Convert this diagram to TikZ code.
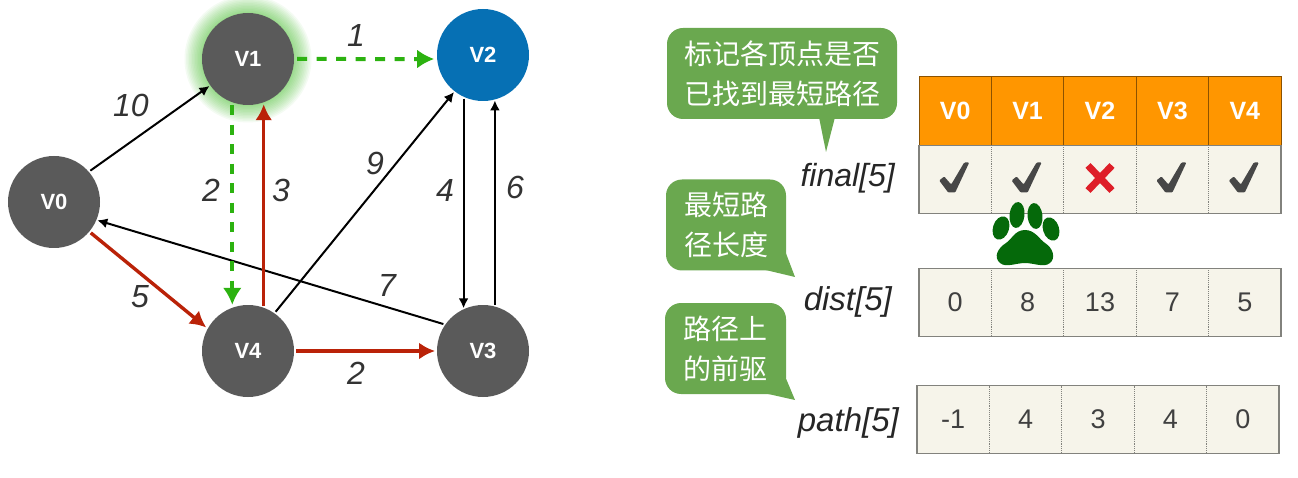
\documentclass[tikz,border=0pt]{standalone}
\usepackage{fontspec}
\setmainfont{Liberation Sans}
\newfontfamily\cjkfont{Noto Sans CJK SC}
\usetikzlibrary{arrows.meta, positioning, calc}
\definecolor{vexgray}{RGB}{90,90,90}
\definecolor{vexblue}{RGB}{6,112,180}
\definecolor{edgegreen}{RGB}{44,178,16}
\definecolor{edgered}{RGB}{186,34,8}
\definecolor{notegreen}{RGB}{106,168,79}
\definecolor{headorange}{RGB}{255,150,0}
\definecolor{cellcream}{RGB}{246,244,234}
\definecolor{cellline}{RGB}{130,130,125}
\definecolor{pawgreen}{RGB}{5,105,10}
\definecolor{crossred}{RGB}{222,30,40}
\tikzset{
  vertex/.style={
    circle, fill=vexgray, draw=none, minimum size=92pt, inner sep=0pt,
    outer sep=0pt, text=white, font=\fontsize{22}{22}\selectfont\bfseries
  },
  plainedge/.style={-{Latex[length=10pt,width=10pt]}, line width=2pt, draw=black, shorten <=2pt, shorten >=1pt},
  rededge/.style={-{Latex[length=16pt,width=17pt]}, line width=3.4pt, draw=edgered, shorten <=2pt, shorten >=2pt},
  greenedge/.style={-{Latex[length=17pt,width=19pt]}, line width=4pt, draw=edgegreen, dash pattern=on 10pt off 9.5pt, shorten <=3pt, shorten >=3pt},
  weight/.style={font=\fontsize{32}{32}\selectfont\itshape, text=black!80, inner sep=0pt},
  headcell/.style={
    rectangle, fill=headorange, draw=black!45!headorange, line width=0.8pt, minimum width=72.4pt,
    minimum height=69pt, inner sep=0pt, outer sep=0pt, text=white,
    font=\fontsize{25}{25}\selectfont\bfseries
  },
  valcell/.style={
    rectangle, fill=cellcream, minimum width=72.4pt, minimum height=68pt,
    inner sep=0pt, outer sep=0pt, text=black!75, font=\fontsize{27}{27}\selectfont
  },
  framebox/.style={draw=cellline, line width=1.6pt},
  divider/.style={draw=cellline, line width=0.9pt, densely dotted},
  arrayname/.style={font=\fontsize{33}{33}\selectfont\itshape, text=black!85, inner sep=0pt},
  note/.style={
    rectangle, rounded corners=16pt, fill=notegreen, text=white, align=center,
    inner sep=0pt, font=\fontsize{28}{40}\cjkfont
  },
  notetail/.style={fill=notegreen, draw=none},
  checkmark/.style={fill=black!72, draw=none, rounded corners=1pt},
  crossmark/.style={draw=crossred, line width=7pt},
  paw/.style={fill=pawgreen, draw=none}
}

\begin{document}
\begin{tikzpicture}[x=1pt, y=-1pt]
\useasboundingbox (0,0) rectangle (1298,478);

\foreach \r in {47,48.5,...,64}
  \fill[edgegreen, opacity=0.05] (248,59) circle (\r pt);

\node[vertex] (V0) at (54,202) {V0};
\node[vertex] (V1) at (248,59) {V1};
\node[vertex, fill=vexblue] (V2) at (483,55) {V2};
\node[vertex] (V3) at (483,351) {V3};
\node[vertex] (V4) at (248,351) {V4};

\draw[plainedge] (V0.41) -- (V1.215);
\draw[plainedge] (V4.55) -- (V2.232);
\draw[plainedge] (V2.245) -- (V3.115);
\draw[plainedge] (V3.75) -- (V2.285);
\draw[plainedge] (V3.145) -- (V0.-23);
\draw[rededge] (V4.70) -- (V1.290);
\draw[rededge] (V0.-40) -- (V4.151);
\draw[rededge] (V4) -- (V3);
\draw[greenedge] (V1.0) -- (V2.185);
\draw[greenedge] (V1.250) -- (V4.110);

\node[weight] (w01) at (131,105) {10};
\node[weight] (w12) at (356,35) {1};
\node[weight] (w14) at (211,190) {2};
\node[weight] (w41) at (281,190) {3};
\node[weight] (w42) at (375,163) {9};
\node[weight] (w23) at (445,190) {4};
\node[weight] (w32) at (515,187) {6};
\node[weight] (w30) at (387,285) {7};
\node[weight] (w04) at (140,297) {5};
\node[weight] (w43) at (356,373) {2};

% table of the three arrays
\foreach \i/\t in {0/V0, 1/V1, 2/V2, 3/V3, 4/V4}
  \node[headcell] (head\i) at (955.2+72.4*\i,110.5) {\t};
\foreach \i in {0,1,2,3,4}
  \node[valcell] (final\i) at (955.2+72.4*\i,179.5) {};
\foreach \i/\t in {0/0, 1/8, 2/13, 3/7, 4/5}
  \node[valcell] (dist\i) at (955.2+72.4*\i,302.5) {\t};
\foreach \i/\t in {0/-1, 1/4, 2/3, 3/4, 4/0}
  \node[valcell] (path\i) at (953.2+72.4*\i,419.5) {\t};

\foreach \i in {0,1,3,4}
  \fill[checkmark, shift={(final\i)}] (-16,1) -- (-11,-3) -- (-4,5) -- (9,-17) -- (14,-17)
    -- (0,13) -- (-7,13) -- cycle;
\draw[crossmark, shift={(final2)}] (-12,-14) -- (12,11) (12,-14) -- (-12,11);

\foreach \row in {final,dist,path}{
  \foreach \i in {1,2,3,4}
    \draw[divider] (\row\i.north west) -- (\row\i.south west);
  \draw[framebox] (\row0.north west) rectangle (\row4.south east);
}

\node[arrayname, anchor=east, font=\fontsize{32}{32}\selectfont\itshape] (finalname) at (895,178) {final[5]};
\node[arrayname, anchor=east] (distname) at (892,302) {dist[5]};
\node[arrayname, anchor=east] (pathname) at (899,423) {path[5]};

% notes with their tails
\coordinate (tip1) at (826,152);
\coordinate (tip2) at (795,277);
\coordinate (tip3) at (795,400);
\node[note, minimum width=230pt, minimum height=91pt] (note1) at (782,73.5) {标记各顶点是否\\已找到最短路径};
\node[note, minimum width=120pt, minimum height=91pt] (note2) at (726,225) {最短路\\径长度};
\node[note, minimum width=121pt, minimum height=91pt] (note3) at (725.5,348.5) {路径上\\的前驱};
\fill[notetail] ($(note1.south)+(37,-2)$) -- (tip1) -- ($(note1.south)+(53,-2)$) -- cycle;
\fill[notetail] ($(note2.south east)+(-2,-22)$) -- (tip2) -- ($(note2.south east)+(-26,-2)$) -- cycle;
\fill[notetail] ($(note3.south east)+(-2,-20)$) -- (tip3) -- ($(note3.south east)+(-26,-2)$) -- cycle;

% paw print
\fill[paw] (1001,228) ellipse [x radius=8pt, y radius=12pt, rotate=-18];
\fill[paw] (1017,215) ellipse [x radius=7.5pt, y radius=13pt, rotate=-6];
\fill[paw] (1035,216) ellipse [x radius=7.5pt, y radius=13pt, rotate=6];
\fill[paw] (1051,229) ellipse [x radius=8pt, y radius=12pt, rotate=18];
\fill[paw] (1025,263) .. controls (1016,263) and (1006,268) .. (1000,263)
  .. controls (993,257) and (998,248) .. (1006,243)
  .. controls (1012,239) and (1015,230) .. (1025,230)
  .. controls (1035,230) and (1039,239) .. (1045,243)
  .. controls (1053,248) and (1056,258) .. (1050,263)
  .. controls (1044,268) and (1034,263) .. (1025,263) -- cycle;
\end{tikzpicture}
\end{document}
